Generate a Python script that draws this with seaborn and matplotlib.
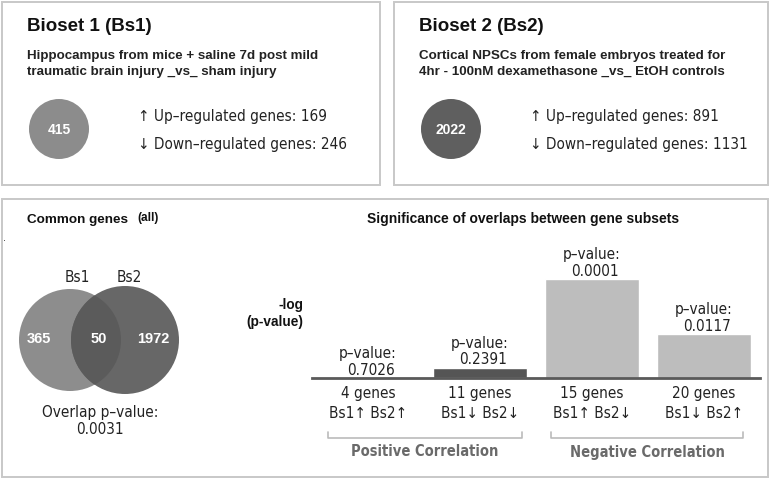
import matplotlib
matplotlib.use("Agg")
import matplotlib.pyplot as plt
from matplotlib.patches import Rectangle, Circle
import seaborn as sns
import pandas as pd

# ---------------- data ----------------
bioset_titles = ["Bioset 1 (Bs1)", "Bioset 2 (Bs2)"]
bioset_desc = [
    "Hippocampus from mice + saline 7d post mild\ntraumatic brain injury _vs_ sham injury",
    "Cortical NPSCs from female embryos treated for\n4hr - 100nM dexamethasone _vs_ EtOH controls",
]
bioset_total = [415, 2022]
bioset_up = [169, 891]
bioset_down = [246, 1131]

venn_only1 = 365
venn_both = 50
venn_only2 = 1972
venn_pvalue = "0.0031"

subset_genes = [4, 11, 15, 20]
subset_labels = ["Bs1\u2191 Bs2\u2191", "Bs1\u2193 Bs2\u2193", "Bs1\u2191 Bs2\u2193", "Bs1\u2193 Bs2\u2191"]
subset_pvalues = ["0.7026", "0.2391", "0.0001", "0.0117"]
subset_neglog = [0.0, 0.42, 4.0, 1.78]   # bar heights
bar_colors = ["#bdbdbd", "#555555", "#bdbdbd", "#bdbdbd"]
group_names = ["Positive Correlation", "Negative Correlation"]

# ---------------- figure ----------------
sns.set_theme(style="white")
plt.rcParams["font.family"] = ["DejaVu Sans"]
W, H = 771, 479
fig = plt.figure(figsize=(W / 100, H / 100), dpi=100)

ov = fig.add_axes([0, 0, 1, 1], zorder=0)
ov.set_xlim(0, W)
ov.set_ylim(H, 0)
ov.axis("off")

ARIAL = ["Liberation Sans", "DejaVu Sans"]
COND = dict(family=["DejaVu Sans"], fontstretch="condensed")
BOX = "#c8c8c8"

# panel boxes
for (x0, y0, x1, y1) in [(2, 2, 380, 185), (394, 2, 768, 185), (2, 199, 768, 477)]:
    ov.add_patch(Rectangle((x0, y0), x1 - x0, y1 - y0, fill=False, ec=BOX, lw=1.4))

# top panels
circle_colors = ["#8c8c8c", "#5f5f5f"]
for k, x0 in enumerate([27, 419]):
    ov.text(x0, 26, bioset_titles[k], family=ARIAL, fontsize=13.5, fontweight="bold",
            va="center", ha="left", color="#111111")
    ov.text(x0, 64, bioset_desc[k], family=ARIAL, fontsize=9.6, fontweight="bold",
            va="center", ha="left", color="#222222", linespacing=1.35)
    cx = x0 + 32
    ov.add_patch(Circle((cx, 129), 30, color=circle_colors[k], ec="none"))
    ov.text(cx, 130, str(bioset_total[k]), family=ARIAL, fontsize=10, fontweight="bold",
            color="white", ha="center", va="center")
    tx = x0 + 111
    ov.text(tx, 116, "\u2191 Up\u2013regulated genes: %d" % bioset_up[k], fontsize=11,
            ha="left", va="center", color="#222222", **COND)
    ov.text(tx, 144, "\u2193 Down\u2013regulated genes: %d" % bioset_down[k], fontsize=11,
            ha="left", va="center", color="#222222", **COND)

# Venn panel
ov.text(27, 220, "Common genes", family=ARIAL, fontsize=9.7, fontweight="bold",
        ha="left", va="center", color="#111111")
ov.text(137, 218, "(all)", family=ARIAL, fontsize=8.5, fontweight="bold",
        ha="left", va="center", color="#111111")
ov.text(5, 238, ".", fontsize=7, color="#333333", ha="center", va="center")

c1 = Circle((70, 340), 51, color="#8d8d8d", ec="none")
c2 = Circle((125, 340), 54, color="#676767", ec="none")
ov.add_patch(c1)
ov.add_patch(c2)
lens = Circle((70, 340), 51, color="#5b5b5b", ec="none")
ov.add_patch(lens)
lens.set_clip_path(c2)
ov.text(77, 277, "Bs1", fontsize=11, ha="center", va="center", color="#222222", **COND)
ov.text(129, 277, "Bs2", fontsize=11, ha="center", va="center", color="#222222", **COND)
for x, v in [(39, venn_only1), (99, venn_both), (153, venn_only2)]:
    ov.text(x, 339, str(v), family=ARIAL, fontsize=10.5, fontweight="bold",
            color="white", ha="center", va="center")
ov.text(100, 413, "Overlap p\u2013value:", fontsize=11, ha="center", va="center",
        color="#222222", **COND)
ov.text(100, 429, venn_pvalue, fontsize=11, ha="center", va="center", color="#222222", **COND)

# bar chart panel
ov.text(523, 219, "Significance of overlaps between gene subsets", family=ARIAL,
        fontsize=10, fontweight="bold", ha="center", va="center", color="#111111")
ov.text(303, 305, "-log", family=ARIAL, fontsize=9.8, fontweight="bold",
        ha="right", va="center", color="#111111")
ov.text(303, 322, "(p-value)", family=ARIAL, fontsize=9.8, fontweight="bold",
        ha="right", va="center", color="#111111")

base_y, top_y, left_x, right_x = 378, 240, 312, 760
ax = fig.add_axes([left_x / W, (H - base_y) / H, (right_x - left_x) / W, (base_y - top_y) / H],
                  zorder=1)
ax.patch.set_alpha(0)
df = pd.DataFrame({
    "subset": ["%d genes\n%s" % (g, l) for g, l in zip(subset_genes, subset_labels)],
    "neglog": subset_neglog,
})
sns.barplot(data=df, x="subset", y="neglog", hue="subset", palette=bar_colors,
            width=0.84, legend=False, ax=ax, saturation=1)
ax.set_xlim(-0.5, 3.5)
ax.set_ylim(0, 138 / 24.75)
for s in ["top", "right", "left"]:
    ax.spines[s].set_visible(False)
ax.spines["bottom"].set_color("#5a5a5a")
ax.spines["bottom"].set_linewidth(2)
ax.set_yticks([])
ax.set_xlabel("")
ax.set_ylabel("")
ax.tick_params(axis="x", length=0, pad=6, labelcolor="#222222")
for lab in ax.get_xticklabels():
    lab.set_linespacing(1.4)
    lab.set_fontsize(11)
    lab.set_fontstretch("condensed")
for i, (v, p) in enumerate(zip(subset_neglog, subset_pvalues)):
    ax.annotate(p, (i, v), xytext=(2, 5.5), textcoords="offset points",
                ha="center", va="center", fontsize=11, color="#222222", **COND)
    ax.annotate("p\u2013value:", (i, v), xytext=(0, 17.5), textcoords="offset points",
                ha="center", va="center", fontsize=11, color="#222222", **COND)

# group brackets
for (x0, x1), name in zip([(328, 522), (551, 743)], group_names):
    ov.plot([x0, x0, x1, x1], [432, 438, 438, 432], color="#bbbbbb", lw=1.2)
    ov.text((x0 + x1) / 2, 452, name, fontsize=10.5, fontweight="bold",
            color="#6a6a6a", ha="center", va="center", **COND)

fig.savefig("out.png", dpi=100)
